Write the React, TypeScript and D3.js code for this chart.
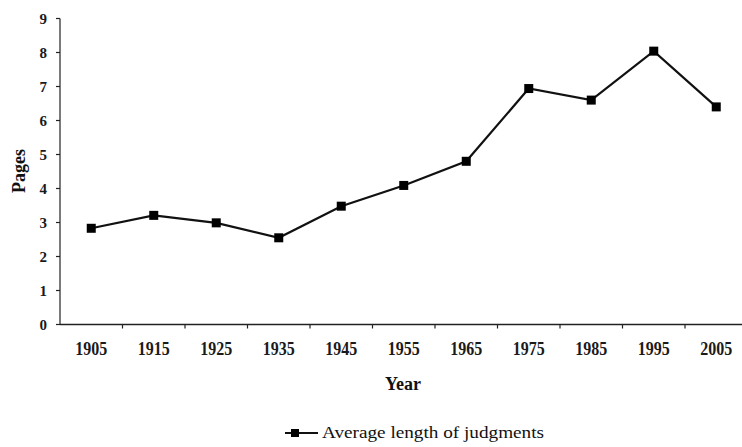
import React from "react";
import * as d3 from "d3";

const years = ["1905", "1915", "1925", "1935", "1945", "1955", "1965", "1975", "1985", "1995", "2005"];
const pages = [2.83, 3.21, 2.99, 2.55, 3.48, 4.09, 4.8, 6.94, 6.6, 8.04, 6.4];
const yTicks = [0, 1, 2, 3, 4, 5, 6, 7, 8, 9];
const seriesName = "Average length of judgments";
const xTitle = "Year";
const yTitle = "Pages";

export default function App() {
  const W = 742, H = 447;
  const left = 60, right = 747.5, top = 18.5, bottom = 324.5;
  const x = d3.scaleBand<string>().domain(years).range([left, right]);
  const y = d3.scaleLinear().domain([0, 9]).range([bottom, top]);
  const line = d3.line<number>()
    .x((_, i) => (x(years[i]) as number) + x.bandwidth() / 2)
    .y((d) => y(d));
  const ff = { fontFamily: "'Liberation Serif', 'Times New Roman', Times, serif" };
  const ms = 9;
  return (
    <svg width={W} height={H} style={{ position: "absolute", left: 0, top: 0, background: "#fff", ...ff }}>
      <line x1={left} x2={left} y1={top} y2={bottom} stroke="#222" strokeWidth={1.2} />
      <line x1={left} x2={W} y1={bottom} y2={bottom} stroke="#222" strokeWidth={1.5} />
      {yTicks.map((t) => (
        <g key={t}>
          <line x1={left - 4} x2={left} y1={y(t)} y2={y(t)} stroke="#222" strokeWidth={1.2} />
          <text x={47} y={y(t)} dy="0.35em" textAnchor="end" fontSize={15} fontWeight="bold" fill="#1a1a1a" style={ff}>{t}</text>
        </g>
      ))}
      {years.map((yr, i) => (
        <g key={yr}>
          {i > 0 && (
            <line x1={x(yr) as number} x2={x(yr) as number} y1={bottom} y2={bottom + 4} stroke="#222" strokeWidth={1.2} />
          )}
          <text x={(x(yr) as number) + x.bandwidth() / 2 - 16} y={355} fontSize={18} fontWeight="bold" fill="#1a1a1a" textLength={32} lengthAdjust="spacingAndGlyphs" style={ff}>{yr}</text>
        </g>
      ))}
      <text x={403} y={390} textAnchor="middle" fontSize={18} fontWeight="bold" fill="#111" style={ff}>{xTitle}</text>
      <text transform={`translate(25,171) rotate(-90)`} textAnchor="middle" fontSize={18} fontWeight="bold" fill="#111" style={ff}>{yTitle}</text>
      <path d={line(pages) || ""} fill="none" stroke="#111" strokeWidth={2.2} />
      {pages.map((v, i) => (
        <rect key={i} x={(x(years[i]) as number) + x.bandwidth() / 2 - ms / 2} y={y(v) - ms / 2} width={ms} height={ms} fill="#000" />
      ))}
      <line x1={285} x2={318} y1={433} y2={433} stroke="#111" strokeWidth={2.2} />
      <rect x={291} y={429} width={8} height={8} fill="#000" />
      <text x={322} y={438} fontSize={17} fill="#111" textLength={222} lengthAdjust="spacingAndGlyphs" style={ff}>{seriesName}</text>
    </svg>
  );
}
